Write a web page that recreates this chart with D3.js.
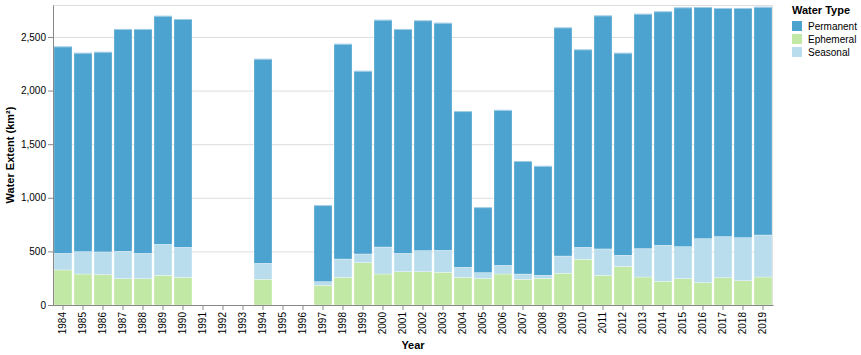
<!DOCTYPE html>
<html><head><meta charset="utf-8">
<script src="https://cdn.jsdelivr.net/npm/d3@7"></script>
<style>body{margin:0;background:#fff;font-family:"Liberation Sans",Arial,Helvetica,sans-serif;}</style>
</head><body><svg id="c" width="861" height="355"></svg>
<script>
const years = ["1984","1985","1986","1987","1988","1989","1990","1991","1992","1993","1994","1995","1996","1997","1998","1999","2000","2001","2002","2003","2004","2005","2006","2007","2008","2009","2010","2011","2012","2013","2014","2015","2016","2017","2018","2019"];
// null = no data for that year
const ephemeral = [327,289,283,246,246,277,258,null,null,null,240,null,null,184,258,395,289,311,311,305,258,246,289,240,249,296,426,277,358,261,221,246,208,255,227,261];
const seasonal  = [155,209,212,255,236,289,280,null,null,null,149,null,null,34,171,81,252,171,196,205,94,56,81,49,28,161,112,246,106,265,336,298,411,383,401,392];
const permanent = [1926,1851,1863,2069,2088,2128,2125,null,null,null,1904,null,null,709,2004,1705,2116,2088,2144,2119,1452,606,1446,1049,1017,2128,1842,2174,1885,2187,2178,2228,2156,2128,2138,2125];
const seriesNames = ["Ephemeral","Seasonal","Permanent"];
const legendOrder = ["Permanent","Ephemeral","Seasonal"];
const colors = {Permanent:"#4ca3cf", Ephemeral:"#c1e8a5", Seasonal:"#badded"};
const yTicks = [0,500,1000,1500,2000,2500];

const rows = years.map((y,i)=>({year:y, Ephemeral:ephemeral[i], Seasonal:seasonal[i], Permanent:permanent[i]}));
const svg = d3.select("#c");
const m = {l:53, t:5, w:720, h:300};
const g = svg.append("g").attr("transform",`translate(${m.l},${m.t})`);
const x = d3.scaleBand().domain(years).range([0,m.w]).paddingInner(0.1).paddingOuter(0.05);
const y = d3.scaleLinear().domain([0,2798]).range([m.h,0]);

// grid
g.append("g").selectAll("line").data(yTicks).join("line")
 .attr("x1",0).attr("x2",m.w).attr("y1",d=>y(d)+0.5).attr("y2",d=>y(d)+0.5)
 .attr("stroke","#ddd").attr("stroke-width",1);
g.append("line").attr("x1",0).attr("x2",m.w).attr("y1",0.5).attr("y2",0.5).attr("stroke","#ddd");
g.append("line").attr("x1",m.w-0.5).attr("x2",m.w-0.5).attr("y1",0).attr("y2",m.h).attr("stroke","#ddd");

const stack = d3.stack().keys(seriesNames).value((d,k)=>d[k]||0);
const layers = stack(rows.filter(r=>r.Permanent!==null));
g.append("g").selectAll("g").data(layers).join("g").attr("fill",d=>colors[d.key])
 .selectAll("rect").data(d=>d).join("rect")
 .attr("x",d=>x(d.data.year)).attr("width",x.bandwidth())
 .attr("y",d=>y(d[1])).attr("height",d=>Math.max(0,y(d[0])-y(d[1])))
 .attr("stroke","#fff").attr("stroke-width",0.5).attr("stroke-opacity",0.6);
// thin highlight at top of stacks
g.append("g").selectAll("rect").data(layers[2]).join("rect")
 .attr("x",d=>x(d.data.year)).attr("width",x.bandwidth())
 .attr("y",d=>y(d[1])-0.5).attr("height",1).attr("fill","#9fcbe5");

// axes
const xa = g.append("g").attr("transform",`translate(0,${m.h})`)
 .call(d3.axisBottom(x).tickSize(5).tickSizeOuter(0));
xa.select(".domain").attr("stroke","#888");
xa.selectAll(".tick line").attr("stroke","#888");
xa.selectAll("text").attr("transform","rotate(-90)").attr("text-anchor","end")
 .attr("x",-7).attr("y",0).attr("dy","0.32em").attr("font-size",10).attr("fill","#000")
 .attr("font-family","Liberation Sans,Arial,sans-serif");
const ya = g.append("g").call(d3.axisLeft(y).tickValues(yTicks).tickFormat(d3.format(",")).tickSize(5).tickSizeOuter(0));
ya.select(".domain").attr("stroke","#888");
ya.selectAll(".tick line").attr("stroke","#888");
ya.selectAll("text").attr("font-size",10).attr("fill","#000").attr("x",-7)
 .attr("font-family","Liberation Sans,Arial,sans-serif");

svg.append("text").attr("x",m.l+m.w/2).attr("y",349).attr("text-anchor","middle")
 .attr("font-size",11).attr("font-weight","bold").text("Year");
svg.append("text").attr("transform",`translate(14,${m.t+m.h/2}) rotate(-90)`).attr("text-anchor","middle")
 .attr("font-size",11).attr("font-weight","bold").text("Water Extent (km²)");

// legend
const lg = svg.append("g").attr("transform","translate(792,0)");
lg.append("text").attr("x",0).attr("y",14).attr("font-size",11).attr("font-weight","bold").text("Water Type");
legendOrder.forEach((k,i)=>{
  lg.append("rect").attr("x",0).attr("y",21+i*13).attr("width",10).attr("height",10).attr("fill",colors[k]);
  lg.append("text").attr("x",16).attr("y",30+i*13).attr("font-size",10).attr("fill","#000").text(k);
});
</script></body></html>
